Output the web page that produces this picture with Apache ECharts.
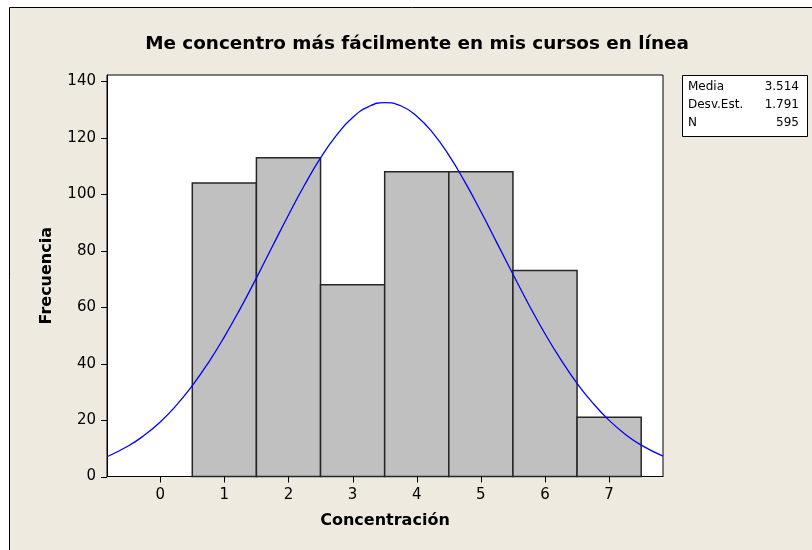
<!DOCTYPE html>
<html>
<head>
<meta charset="utf-8">
<script src="https://cdn.jsdelivr.net/npm/echarts@6/dist/echarts.min.js"></script>
<style>
html,body{margin:0;padding:0;background:#ffffff;}
#chart{width:812px;height:550px;}
</style>
</head>
<body>
<div id="chart"></div>
<script>
// ---- data ----
var titleText = 'Me concentro más fácilmente en mis cursos en línea';
var xAxisTitle = 'Concentración';
var yAxisTitle = 'Frecuencia';
var binCenters = [1, 2, 3, 4, 5, 6, 7];
var binCounts = [104, 113, 68, 108, 108, 73, 21];
var xTicks = [0, 1, 2, 3, 4, 5, 6, 7];
var yTicks = [0, 20, 40, 60, 80, 100, 120, 140];
var curveX = [-0.83, -0.5, -0.25, 0, 0.25, 0.5, 0.75, 1, 1.25, 1.5, 1.75, 2, 2.25, 2.5, 2.75, 3, 3.25, 3.5, 3.75, 4, 4.25, 4.5, 4.75, 5, 5.25, 5.5, 5.75, 6, 6.25, 6.5, 6.75, 7, 7.25, 7.5, 7.84];
var curveY = [7.0, 10.8, 14.6, 19.3, 25.2, 32.2, 40.3, 49.5, 59.6, 70.4, 81.6, 92.7, 103.3, 112.9, 121.0, 127.2, 131.1, 132.5, 131.4, 127.7, 121.8, 113.9, 104.4, 93.9, 82.8, 71.7, 60.8, 50.6, 41.3, 33.0, 25.9, 19.9, 15.0, 11.1, 7.2];
var statsLabels = ['Media', 'Desv.Est.', 'N'];
var statsValues = ['3.514', '1.791', '595'];

var FONT = 'DejaVu Sans';
var xMin = -0.83, xMax = 7.84, yMin = 0, yMax = 142.3;
var TICK_LEN = 6;

var barData = binCenters.map(function (c, i) { return [c - 0.5, c + 0.5, binCounts[i]]; });
var curveData = curveX.map(function (x, i) { return [x, curveY[i]]; });

var graphics = [
  { type: 'rect', z: -10, shape: { x: 9.5, y: 7.5, width: 900, height: 700 },
    style: { fill: '#EEEAE0', stroke: '#000', lineWidth: 1 } },
  { type: 'text', x: 417, y: 35, style: { text: titleText, font: 'bold 18.4px "' + FONT + '"', fill: '#000', align: 'center', verticalAlign: 'top' } },
  { type: 'rect', shape: { x: 682.5, y: 75.5, width: 125, height: 61 },
    style: { fill: '#fff', stroke: '#000', lineWidth: 1 } }
];
statsLabels.forEach(function (lab, i) {
  graphics.push({ type: 'text', x: 688, y: 87 + i * 18, style: { text: lab, font: '12px "' + FONT + '"', fill: '#000', align: 'left', verticalAlign: 'middle' } });
  graphics.push({ type: 'text', x: 799, y: 87 + i * 18, style: { text: statsValues[i], font: '12px "' + FONT + '"', fill: '#000', align: 'right', verticalAlign: 'middle' } });
});

var chart = echarts.init(document.getElementById('chart'), null, { renderer: 'canvas' });
chart.setOption({
  animation: false,
  backgroundColor: 'transparent',
  graphic: graphics,
  grid: { left: 107, right: 149, top: 75, bottom: 73.5, show: true, backgroundColor: '#fff', borderColor: '#000', borderWidth: 1 },
  xAxis: {
    type: 'value', min: xMin, max: xMax,
    name: xAxisTitle, nameLocation: 'middle', nameGap: 36,
    nameTextStyle: { fontFamily: FONT, fontWeight: 'bold', fontSize: 16, color: '#000' },
    axisLine: { show: true, onZero: false, lineStyle: { color: '#000', width: 1 } },
    axisTick: { show: false },
    axisLabel: { customValues: xTicks, margin: 11, fontFamily: FONT, fontSize: 15, color: '#000' },
    splitLine: { show: false }
  },
  yAxis: {
    type: 'value', min: yMin, max: yMax, interval: 20,
    name: yAxisTitle, nameLocation: 'middle', nameGap: 52, nameRotate: 90,
    nameTextStyle: { fontFamily: FONT, fontWeight: 'bold', fontSize: 16, color: '#000' },
    axisLine: { show: true, onZero: false, lineStyle: { color: '#000', width: 1 } },
    axisTick: { show: false },
    axisLabel: { showMaxLabel: false, margin: 11, fontFamily: FONT, fontSize: 15, color: '#000' },
    splitLine: { show: false }
  },
  series: [
    {
      type: 'custom', data: barData, z: 2,
      encode: { x: [0, 1], y: 2 },
      renderItem: function (params, api) {
        var p0 = api.coord([api.value(0), api.value(2)]);
        var p1 = api.coord([api.value(1), 0]);
        return { type: 'rect', shape: { x: p0[0], y: p0[1], width: p1[0] - p0[0], height: p1[1] - p0[1] },
          style: { fill: '#C0C0C0', stroke: '#262626', lineWidth: 1.5 } };
      }
    },
    {
      type: 'line', data: curveData, z: 5, smooth: true, showSymbol: false, symbol: 'none',
      lineStyle: { color: '#0000FF', width: 1.3 }
    },
    {
      type: 'custom', clip: false, silent: true, z: 6,
      data: xTicks.map(function (v) { return [v, yMin]; }),
      encode: { x: 0, y: 1 },
      renderItem: function (params, api) {
        var p = api.coord([api.value(0), api.value(1)]);
        var x = Math.round(p[0]) + 0.5;
        return { type: 'line', shape: { x1: x, y1: p[1], x2: x, y2: p[1] + TICK_LEN }, style: { stroke: '#000', lineWidth: 1 } };
      }
    },
    {
      type: 'custom', clip: false, silent: true, z: 6,
      data: yTicks.map(function (v) { return [xMin, v]; }),
      encode: { x: 0, y: 1 },
      renderItem: function (params, api) {
        var p = api.coord([api.value(0), api.value(1)]);
        var y = Math.round(p[1]) + 0.5;
        return { type: 'line', shape: { x1: p[0], y1: y, x2: p[0] - TICK_LEN, y2: y }, style: { stroke: '#000', lineWidth: 1 } };
      }
    }
  ]
});
</script>
</body>
</html>
